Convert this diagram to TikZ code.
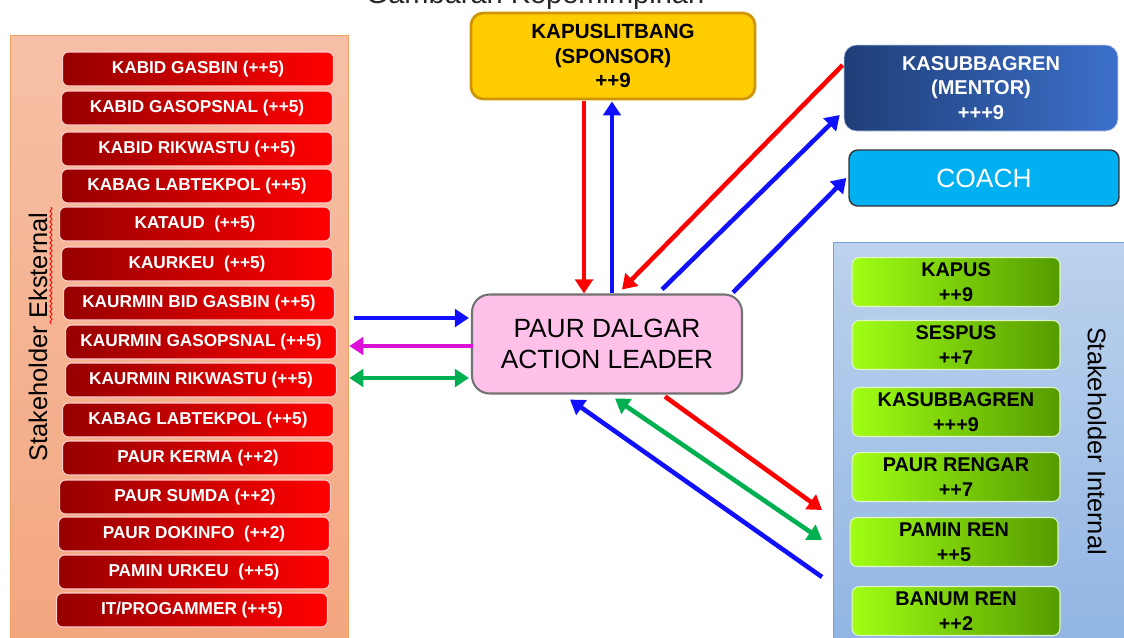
\documentclass[tikz,border=0pt]{standalone}
\usepackage{fontspec}
\setmainfont{Liberation Sans}
\usetikzlibrary{arrows.meta,calc,decorations.pathmorphing}
\definecolor{redD}{RGB}{150,0,0}
\definecolor{redL}{RGB}{255,0,0}
\definecolor{grnL}{RGB}{160,255,20}
\definecolor{grnD}{RGB}{85,155,0}
\definecolor{yel}{RGB}{255,204,0}
\definecolor{yelD}{RGB}{205,150,0}
\definecolor{menD}{RGB}{31,62,120}
\definecolor{menL}{RGB}{60,112,202}
\definecolor{coachC}{RGB}{0,176,240}
\definecolor{pinkC}{RGB}{255,192,234}
\definecolor{extT}{RGB}{246,192,166}
\definecolor{extB}{RGB}{243,166,126}
\definecolor{extE}{RGB}{240,160,96}
\definecolor{intT}{RGB}{188,210,237}
\definecolor{intB}{RGB}{143,180,227}
\definecolor{intE}{RGB}{120,160,215}
\definecolor{arB}{RGB}{16,16,255}
\definecolor{arR}{RGB}{255,0,0}
\definecolor{arG}{RGB}{0,176,80}
\definecolor{arM}{RGB}{220,16,215}
\begin{document}
\begin{tikzpicture}[x=0.02cm,y=-0.02cm,
  ebox/.style={rectangle, rounded corners=3.5pt, draw={rgb,255:red,255;green,205;blue,205}, line width=0.6pt,
    left color=redD, right color=redL, text=white,
    font=\bfseries\fontsize{9.8}{11}\selectfont, minimum width=5.42cm, minimum height=0.68cm, inner sep=0pt},
  ibox/.style={rectangle, rounded corners=4pt, draw={rgb,255:red,225;green,245;blue,200}, line width=0.6pt,
    left color=grnL, right color=grnD, text=black, align=center,
    font=\bfseries\fontsize{11.3}{14}\selectfont, minimum width=4.16cm, minimum height=0.98cm, inner sep=0pt},
  arr/.style={line width=2.6pt, -{Triangle[width=10pt,length=8pt]}},
  darr/.style={line width=2.6pt, {Triangle[width=10pt,length=8pt]}-{Triangle[width=10pt,length=8pt]}},
  sidelabel/.style={font=\fontsize{14.5}{16}\selectfont, text=black}
]
\useasboundingbox (0,0) rectangle (1124,637);
\clip (0,0) rectangle (1124,637);

% title (cut off at the top)
\node[anchor=base, font=\fontsize{16.5}{18}\selectfont, text=black!85] (title) at (535,3.5) {Gambaran Kepemimpinan};

% panels
\node[rectangle, inner sep=0pt, minimum width=6.76cm, minimum height=12.4cm, top color=extT, bottom color=extB, draw=extE, line width=0.8pt, anchor=north west] (ext) at (10,35) {};
\node[rectangle, inner sep=0pt, minimum width=6.2cm, minimum height=8.4cm, top color=intT, bottom color=intB, draw=intE, line width=0.8pt, anchor=north west] (int) at (833,242) {};

\node[sidelabel, rotate=90] (extlab) at (38,337) {Stakeholder Eksternal};
\draw[red, line width=0.5pt, decorate, decoration={snake, amplitude=0.6pt, segment length=3pt}] (51,207) -- (51,324);
\node[sidelabel, rotate=-90] (intlab) at (1097,441) {Stakeholder Internal};

% external stakeholders
\node[ebox] (e1) at (198,69) {KABID GASBIN (++5)};
\node[ebox] (e2) at (197,108) {KABID GASOPSNAL (++5)};
\node[ebox] (e3) at (197,149) {KABID RIKWASTU (++5)};
\node[ebox] (e4) at (197,186) {KABAG LABTEKPOL (++5)};
\node[ebox] (e5) at (195,224) {KATAUD~~(++5)};
\node[ebox] (e6) at (197,264) {KAURKEU~~(++5)};
\node[ebox] (e7) at (199,303) {KAURMIN BID GASBIN (++5)};
\node[ebox] (e8) at (201,342) {KAURMIN GASOPSNAL (++5)};
\node[ebox] (e9) at (201,380) {KAURMIN RIKWASTU (++5)};
\node[ebox] (e10) at (198,420) {KABAG LABTEKPOL (++5)};
\node[ebox] (e11) at (198,458) {PAUR KERMA (++2)};
\node[ebox] (e12) at (195,497) {PAUR SUMDA (++2)};
\node[ebox] (e13) at (194,534) {PAUR DOKINFO~~(++2)};
\node[ebox] (e14) at (194,572) {PAMIN URKEU~~(++5)};
\node[ebox] (e15) at (192,610) {IT/PROGAMMER (++5)};

% internal stakeholders
\node[ibox] (i1) at (956,282) {KAPUS\\++9};
\node[ibox] (i2) at (956,345) {SESPUS\\++7};
\node[ibox] (i3) at (956,412) {KASUBBAGREN\\+++9};
\node[ibox] (i4) at (956,477) {PAUR RENGAR\\++7};
\node[ibox] (i5) at (954,542) {PAMIN REN\\++5};
\node[ibox] (i6) at (956,611) {BANUM REN\\++2};

% top boxes
\node[rectangle, rounded corners=7pt, fill=yel, draw=yelD, line width=1.6pt, minimum width=5.68cm, minimum height=1.72cm,
  align=center, font=\bfseries\fontsize{11.7}{14}\selectfont, inner sep=0pt] (kap) at (613,56) {KAPUSLITBANG\\(SPONSOR)\\++9};
\node[rectangle, rounded corners=7pt, left color=menD, right color=menL, draw={rgb,255:red,190;green,205;blue,230}, line width=0.4pt,
  minimum width=5.48cm, minimum height=1.72cm, align=center, text=white,
  font=\bfseries\fontsize{11.4}{14}\selectfont, inner sep=0pt] (men) at (981,88) {KASUBBAGREN\\(MENTOR)\\+++9};
\node[rectangle, rounded corners=5pt, fill=coachC, draw=black!80, line width=0.8pt, minimum width=5.4cm, minimum height=1.12cm,
  text=white, font=\fontsize{15}{16}\selectfont, inner sep=0pt] (coach) at (984,178) {COACH};

% action leader
\node[rectangle, rounded corners=10pt, fill=pinkC, draw=black!55, line width=1.2pt, minimum width=5.4cm, minimum height=1.98cm,
  align=center, font=\fontsize{15}{18}\selectfont, inner sep=0pt] (pd) at (607,344) {PAUR DALGAR\\ACTION LEADER};

% helper coordinates
\coordinate (r1s) at ($(kap.south)+(-29,1)$);
\coordinate (b1s) at ($(kap.south)+(-1,1)$);
\coordinate (pw) at (ext.east |- pd.west);
\coordinate (inw) at (int.north west);

% connectors: sponsor
\draw[arr, arR] (r1s) -- (r1s |- pd.north);
\draw[arr, arB] (b1s |- pd.north) -- (b1s);
% mentor & coach
\draw[arr, arR] ($(men.west)+(-1,-23)$) -- ($(pd.north)+(15,-4)$);
\draw[arr, arB] ($(pd.north)+(55,-4)$) -- ($(men.west)+(-4,27)$);
\draw[arr, arB] ($(pd.north east)+(-10,-1)$) -- ($(coach.west)+(-2,0)$);
% external
\draw[arr, arB] ($(pw)+(5,-26)$) -- ($(pd.west)+(-2,-26)$);
\draw[arr, arM] ($(pd.west)+(2,2)$) -- ($(pw)+(0,2)$);
\draw[darr, arG] ($(pw)+(0,34)$) -- ($(pd.west)+(-2,34)$);
% internal
\draw[arr, arR] ($(pd.south)+(58,2)$) -- ($(inw)+(-11,268)$);
\draw[darr, arG] ($(pd.south)+(8,4)$) -- ($(inw)+(-11,298)$);
\draw[arr, arB] ($(inw)+(-11,335)$) -- ($(pd.south)+(-37,5)$);
\end{tikzpicture}
\end{document}
